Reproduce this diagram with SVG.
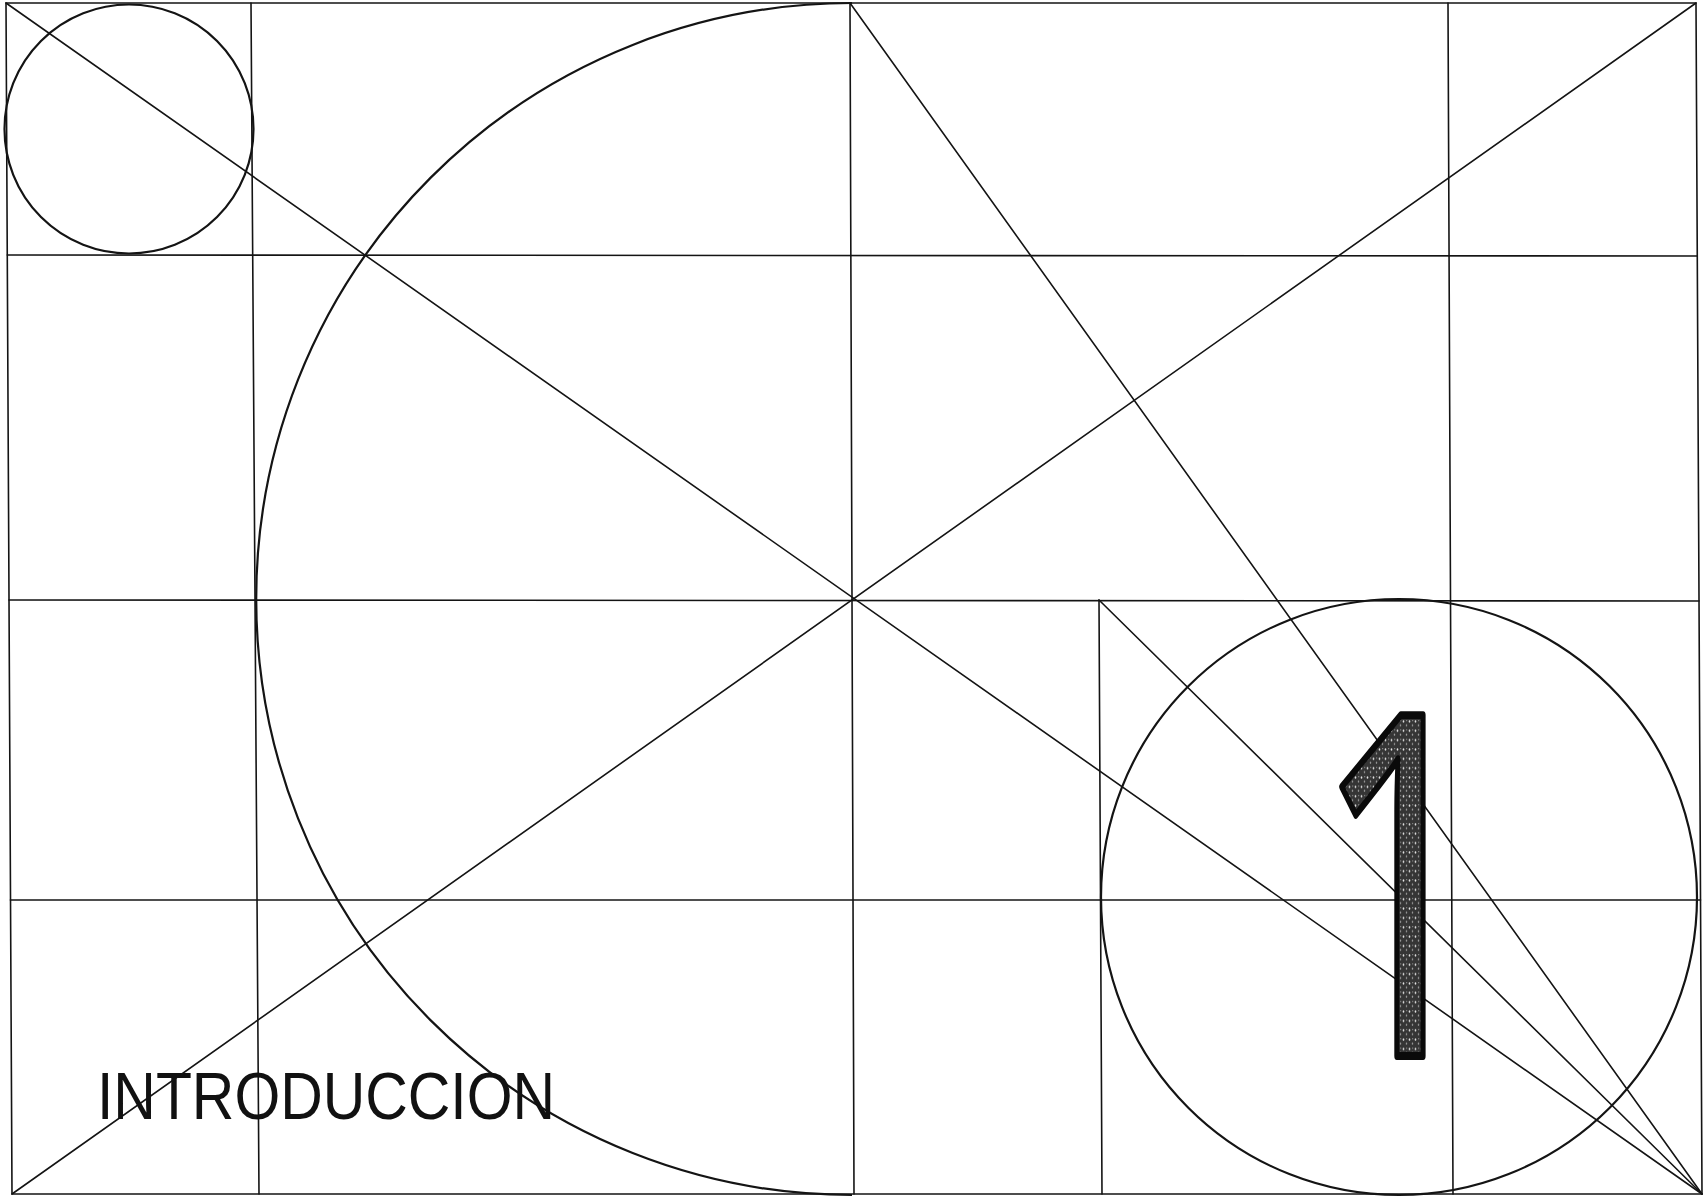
<svg xmlns="http://www.w3.org/2000/svg" width="1706" height="1198" viewBox="0 0 1706 1198">
  <style>
    .ln { stroke: #141414; stroke-width: 1.6; fill: none; stroke-linecap: round; }
    .cr { stroke: #141414; stroke-width: 2.2; fill: none; }
    .title { font-family: "Liberation Sans", Arial, sans-serif; font-size: 66px; fill: #111; }
    .num { font-family: "Noto Sans", "Liberation Sans", sans-serif; font-size: 306px; fill: url(#speck); stroke: #0a0a0a; stroke-width: 5; stroke-linejoin: round; }
  </style>
  <defs>
    <pattern id="speck" width="6" height="6" patternUnits="userSpaceOnUse">
      <rect width="6" height="6" fill="#353535"/>
      <circle cx="1.5" cy="1.5" r="0.8" fill="#e6e6e6"/>
      <circle cx="4.5" cy="4" r="0.7" fill="#9a9a9a"/>
      <circle cx="4.8" cy="1" r="0.4" fill="#cfcfcf"/>
    </pattern>
  </defs>
  <rect width="1706" height="1198" fill="#ffffff"/>

  <g id="frame">
    <path class="ln" d="M6 3 L1696 3 L1702 1194 L12 1194 Z"/>
  </g>

  <g id="grid">
    <line class="ln" x1="7.3" y1="255" x2="1697.3" y2="256"/>
    <line class="ln" x1="9" y1="600" x2="1699" y2="601"/>
    <line class="ln" x1="10.4" y1="900" x2="1700.5" y2="900"/>
    <line class="ln" x1="251" y1="3" x2="259" y2="1194"/>
    <line class="ln" x1="850" y1="3" x2="854" y2="1194"/>
    <line class="ln" x1="1099" y1="600" x2="1102" y2="1194"/>
    <line class="ln" x1="1448" y1="3" x2="1453" y2="1194"/>
  </g>

  <g id="diagonals">
    <line class="ln" x1="6" y1="3" x2="1702" y2="1194"/>
    <line class="ln" x1="12" y1="1194" x2="1696" y2="3"/>
    <line class="ln" x1="850" y1="3" x2="1702" y2="1194"/>
    <line class="ln" x1="1099" y1="600" x2="1702" y2="1194"/>
  </g>

  <g id="circles">
    <circle class="cr" cx="129" cy="129" r="124.5"/>
    <path class="cr" d="M852 3 A596 596 0 0 0 852 1195"/>
    <circle class="cr" cx="1399" cy="897" r="298"/>
  </g>

  <g id="chapter-number">
    <text class="num" text-anchor="middle" transform="translate(1402 1056) scale(1 1.56)">1</text>
  </g>

  <g id="title">
    <text class="title" x="97" y="1119" textLength="458" lengthAdjust="spacingAndGlyphs">INTRODUCCION</text>
  </g>
</svg>
